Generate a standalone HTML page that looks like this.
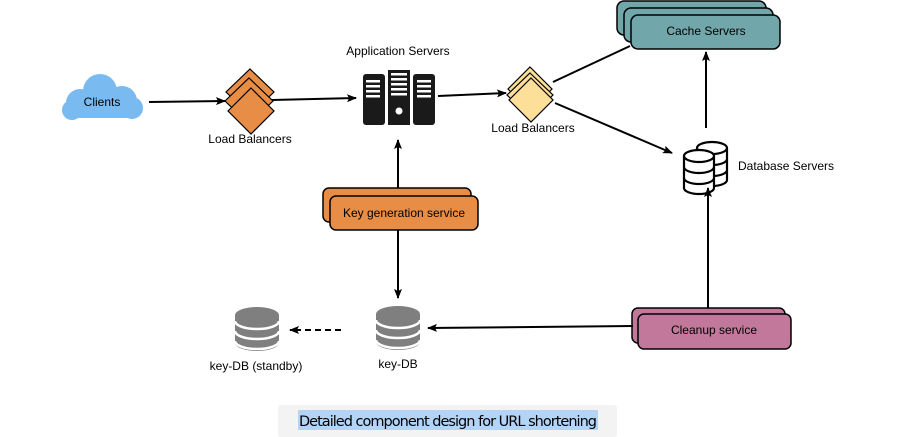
<!DOCTYPE html>
<html><head><meta charset="utf-8"><style>
html,body{margin:0;padding:0;background:#fff;}
svg{display:block;font-family:"Liberation Sans",sans-serif;}
</style></head><body>
<svg width="916" height="437" viewBox="0 0 916 437" xmlns="http://www.w3.org/2000/svg">
<defs>
<marker id="ah" markerWidth="10" markerHeight="8" refX="9" refY="4" orient="auto" markerUnits="userSpaceOnUse">
<path d="M0,0 L10,4 L0,8 L2,4 z" fill="#000"/></marker>
<g id="gcyl">
<path d="M0,8 A22,8 0 0 1 44,8 L44,36 A22,8 0 0 1 0,36 Z" fill="#7f7f7f"/>
<path d="M0,14 A22,8 0 0 0 44,14 M0,24 A22,8 0 0 0 44,24 M0,34 A22,8 0 0 0 44,34" fill="none" stroke="#fff" stroke-width="2.5"/>
</g>
<g id="wcyl">
<path d="M0,6 A15,6 0 0 1 30,6 L30,38 A15,6 0 0 1 0,38 Z" fill="#fff" stroke="#000" stroke-width="2.2"/>
<path d="M0,6 A15,6 0 0 0 30,6 M0,17 A15,6 0 0 0 30,17 M0,28 A15,6 0 0 0 30,28" fill="none" stroke="#000" stroke-width="2.2"/>
</g>
</defs>

<!-- cloud -->
<g fill="#79BAF0">
<circle cx="80" cy="103" r="14"/><circle cx="100" cy="91" r="17"/><circle cx="122" cy="101" r="15"/>
<circle cx="132" cy="108" r="11"/><circle cx="72" cy="110" r="10"/>
<rect x="66" y="98" width="75" height="20" rx="10"/>
</g>
<text x="102" y="106" font-size="12" text-anchor="middle">Clients</text>
<line x1="149" y1="102" x2="225" y2="101" stroke="#000" stroke-width="2" marker-end="url(#ah)"/>

<!-- orange LB -->
<g fill="#E88D45" stroke="#000" stroke-width="1.2">
<path d="M250,69 L274,92 L250,115 L226,92 Z"/>
<path d="M249,78 L273,101 L249,124 L225,101 Z"/>
<path d="M251,88 L274,111 L251,134 L228,111 Z"/>
</g>
<text x="250" y="143" font-size="12" text-anchor="middle">Load Balancers</text>
<line x1="272" y1="100" x2="356" y2="98" stroke="#000" stroke-width="2" marker-end="url(#ah)"/>

<!-- app servers -->
<text x="398" y="55" font-size="12" text-anchor="middle">Application Servers</text>
<g fill="#1a1a1a">
<rect x="363" y="74" width="22" height="51" rx="3"/>
<rect x="388" y="70" width="22" height="55"/>
<rect x="413" y="74" width="22" height="51" rx="3"/>
</g>
<g fill="#fff">
<rect x="366" y="80" width="14" height="2.5"/><rect x="366" y="85" width="14" height="2.5"/><rect x="366" y="90" width="14" height="2.5"/><rect x="366" y="95" width="14" height="2.5"/>
<rect x="391" y="73" width="16" height="2.5"/><rect x="391" y="78" width="16" height="2.5"/><rect x="391" y="83" width="16" height="2.5"/><rect x="391" y="88" width="16" height="2.5"/><rect x="391" y="93" width="16" height="2.5"/>
<rect x="417" y="80" width="14" height="2.5"/><rect x="417" y="85" width="14" height="2.5"/><rect x="417" y="90" width="14" height="2.5"/><rect x="417" y="95" width="14" height="2.5"/>
<circle cx="399" cy="111" r="3.5"/>
</g>
<line x1="438" y1="96" x2="506" y2="93" stroke="#000" stroke-width="2" marker-end="url(#ah)"/>

<!-- yellow LB -->
<g fill="#FDDF99" stroke="#000" stroke-width="1.2">
<path d="M530,67 L552,89 L530,111 L508,89 Z"/>
<path d="M530,73 L553,95 L530,117 L507,95 Z"/>
<path d="M531,78 L553,100 L531,122 L509,100 Z"/>
</g>
<text x="533" y="132" font-size="12" text-anchor="middle">Load Balancers</text>
<line x1="553" y1="82" x2="630" y2="46" stroke="#000" stroke-width="2"/>
<line x1="555" y1="103" x2="672" y2="153" stroke="#000" stroke-width="2" marker-end="url(#ah)"/>

<!-- cache -->
<g fill="#71A6AA" stroke="#000" stroke-width="1.5">
<rect x="617" y="1" width="149" height="34" rx="7"/>
<rect x="624" y="8" width="149" height="34" rx="7"/>
<rect x="631" y="15" width="149" height="34" rx="7"/>
</g>
<text x="706" y="35" font-size="12" text-anchor="middle">Cache Servers</text>
<line x1="706" y1="128" x2="706" y2="52" stroke="#000" stroke-width="2" marker-end="url(#ah)"/>

<!-- DB servers -->
<use href="#wcyl" x="697" y="142"/>
<use href="#wcyl" x="684" y="150"/>
<text x="738" y="170" font-size="12">Database Servers</text>

<!-- key gen -->
<line x1="398" y1="188" x2="398" y2="140" stroke="#000" stroke-width="2" marker-end="url(#ah)"/>
<g fill="#E88D45" stroke="#000" stroke-width="1.5">
<rect x="323" y="188" width="148" height="34" rx="6"/>
<rect x="330" y="196" width="148" height="34" rx="6"/>
</g>
<text x="404" y="217" font-size="12" text-anchor="middle">Key generation service</text>
<line x1="398" y1="230" x2="398" y2="298" stroke="#000" stroke-width="2" marker-end="url(#ah)"/>

<!-- key DBs -->
<use href="#gcyl" x="376" y="306"/>
<text x="398" y="368" font-size="12" text-anchor="middle">key-DB</text>
<use href="#gcyl" x="235" y="307"/>
<text x="256" y="370" font-size="12" text-anchor="middle">key-DB (standby)</text>
<line x1="341" y1="330" x2="290" y2="330" stroke="#000" stroke-width="2" stroke-dasharray="6,4" marker-end="url(#ah)"/>

<!-- cleanup -->
<line x1="708" y1="308" x2="708" y2="188" stroke="#000" stroke-width="2" marker-end="url(#ah)"/>
<g fill="#C2789B" stroke="#000" stroke-width="1.5">
<rect x="632" y="308" width="153" height="35" rx="6"/>
<rect x="638" y="314" width="153" height="35" rx="6"/>
</g>
<text x="714" y="334" font-size="12" text-anchor="middle">Cleanup service</text>
<line x1="633" y1="326" x2="428" y2="328" stroke="#000" stroke-width="2" marker-end="url(#ah)"/>

<!-- caption -->
<rect x="278" y="405" width="339" height="32" rx="3" fill="#f3f3f3"/>
<rect x="298" y="410" width="300" height="20" fill="#B3D4F5"/>
<text x="448" y="426" font-size="14.5" text-anchor="middle" font-family="DejaVu Sans, sans-serif" textLength="298">Detailed component design for URL shortening</text>
</svg>
</body></html>
